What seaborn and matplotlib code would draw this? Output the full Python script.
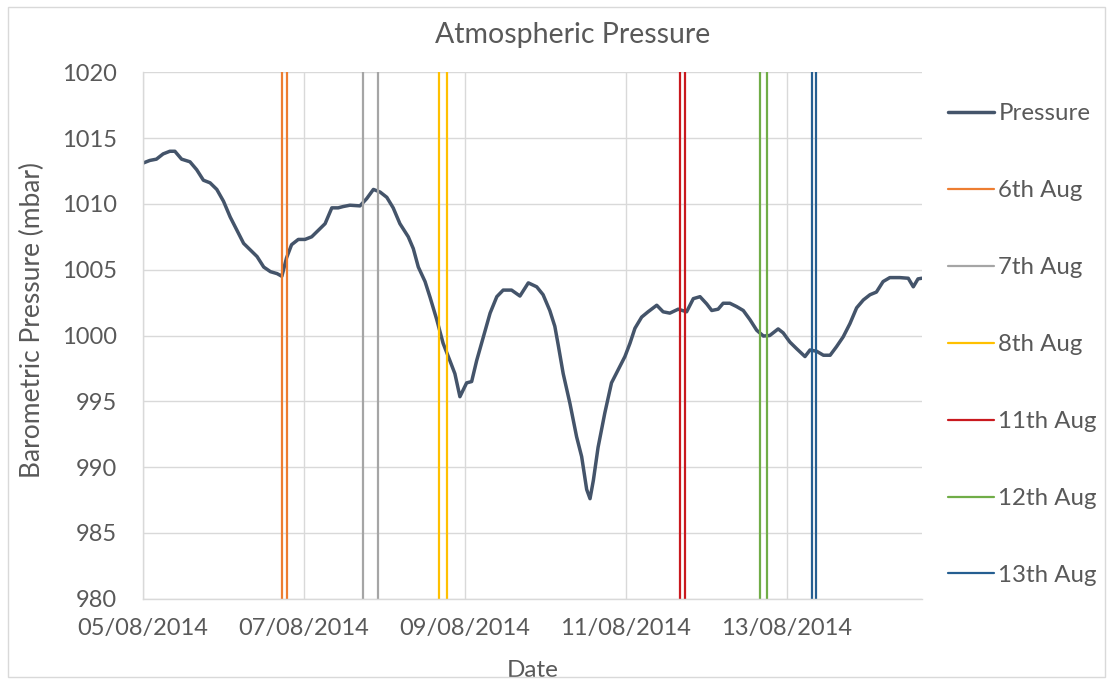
import pandas as pd
import matplotlib.pyplot as plt
import matplotlib.dates as mdates
import seaborn as sns
from matplotlib.lines import Line2D
from matplotlib.patches import Rectangle

# hours after 05/08/2014 00:00
hours = [0, 2, 4, 6, 8, 9.5, 11.5, 14, 16, 18, 20, 22, 24, 26, 28, 30, 32, 34, 36, 38,
         40, 41.4, 42.8, 44.3, 46.3, 48.3, 50.3, 52.3, 54.3, 56.3, 58.2, 59.7, 61.7, 64.7,
         66.7, 68.7, 70.7, 72.7, 74.6, 76.6, 79.1, 80.6, 82.1, 84.1, 85.6, 87.6, 89.5, 91.5,
         93, 94.5, 96.5, 98, 99.5, 101.5, 103.5, 105.5, 107.4, 109.9, 112.4, 114.9, 117.4,
         119.3, 121.3, 122.8, 123.8, 125.3, 127.3, 129.3, 130.8, 132.3, 133.3, 134.3, 135.7,
         137.7, 139.7, 141.7, 143.7, 145.2, 146.7, 148.7, 150.6, 153.2, 155.1, 157.1, 159.6,
         162.1, 164.1, 166.1, 168.1, 169.6, 171.5, 173, 175, 177, 179, 181, 183, 185, 186.9,
         189.4, 190.9, 192.9, 194.9, 197.4, 198.9, 200.9, 202.9, 204.9, 206.8, 208.8, 210.8,
         212.8, 214.8, 216.8, 218.7, 220.7, 222.7, 225.7, 228.2, 229.7, 231.1, 232.2]
pressure = [1013.1, 1013.3, 1013.4, 1013.8, 1014.0, 1014.0, 1013.4, 1013.2, 1012.6, 1011.8,
            1011.6, 1011.1, 1010.2, 1009.0, 1008.0, 1007.0, 1006.5, 1006.0, 1005.2, 1004.85,
            1004.7, 1004.5, 1005.9, 1006.9, 1007.3, 1007.3, 1007.5, 1008.0, 1008.5, 1009.7,
            1009.7, 1009.8, 1009.9, 1009.85, 1010.4, 1011.1, 1010.9, 1010.5, 1009.7, 1008.5,
            1007.5, 1006.6, 1005.2, 1004.1, 1002.9, 1001.2, 999.4, 998.1, 997.1, 995.35,
            996.4, 996.5, 998.1, 999.9, 1001.7, 1002.95, 1003.45, 1003.45, 1003.0, 1004.0,
            1003.7, 1003.1, 1001.9, 1000.7, 999.3, 997.1, 994.85, 992.3, 990.8, 988.3, 987.6,
            989.0, 991.5, 994.1, 996.4, 997.4, 998.4, 999.4, 1000.55, 1001.4, 1001.8, 1002.3,
            1001.8, 1001.7, 1002.0, 1001.8, 1002.8, 1002.95, 1002.4, 1001.9, 1002.0,
            1002.45, 1002.45, 1002.2, 1001.9, 1001.2, 1000.4, 999.96, 1000.0, 1000.5, 1000.2,
            999.5, 999.0, 998.4, 998.9, 998.8, 998.5, 998.5, 999.15, 999.9, 1000.9, 1002.1,
            1002.7, 1003.1, 1003.3, 1004.1, 1004.4, 1004.4, 1004.35, 1003.7, 1004.3, 1004.35]

event_labels = ['6th Aug', '7th Aug', '8th Aug', '11th Aug', '12th Aug', '13th Aug']
event_start = ['2014-08-06 17:20', '2014-08-07 17:35', '2014-08-08 16:15',
               '2014-08-11 16:00', '2014-08-12 16:00', '2014-08-13 07:27']
event_end = ['2014-08-06 18:50', '2014-08-07 22:05', '2014-08-08 18:45',
             '2014-08-11 17:30', '2014-08-12 18:05', '2014-08-13 08:40']
event_colors = ['#ED7D31', '#A5A5A5', '#FFC000', '#C9191E', '#70AD47', '#255E91']

start = pd.Timestamp('2014-08-05')
df = pd.DataFrame({'Date': start + pd.to_timedelta(hours, unit='h'), 'Pressure': pressure})

sns.set_theme(style='white')
plt.rcParams['font.family'] = ['Lato', 'DejaVu Sans']
txt = '#595959'
grid = '#D9D9D9'

fig = plt.figure(figsize=(11.13, 6.84), dpi=100)
fig.patches.append(Rectangle((0.007, 0.01), 0.986, 0.98, transform=fig.transFigure,
                             fill=False, edgecolor=grid, linewidth=1))
ax = fig.add_axes([0.1285, 0.1247, 0.6996, 0.7696])

line_col = '#44546A'
sns.lineplot(data=df, x='Date', y='Pressure', color=line_col, linewidth=2.5, ax=ax)
for s, e, c in zip(event_start, event_end, event_colors):
    ax.axvline(pd.Timestamp(s), color=c, linewidth=1.6)
    ax.axvline(pd.Timestamp(e), color=c, linewidth=1.6)

ax.set_xlim(start, start + pd.Timedelta(hours=232.2))
ax.set_ylim(980, 1020)
ax.set_yticks(range(980, 1021, 5))
ax.xaxis.set_major_locator(mdates.DayLocator(interval=2))
ax.xaxis.set_major_formatter(mdates.DateFormatter('%d/%m/%Y'))
ax.grid(True, color=grid, linewidth=1)
for side in ['top', 'right']:
    ax.spines[side].set_visible(False)
for side in ['left', 'bottom']:
    ax.spines[side].set_color(grid)
    ax.spines[side].set_linewidth(1)
ax.tick_params(axis='both', length=0, labelsize=17, labelcolor=txt)
ax.tick_params(axis='y', pad=19)
ax.tick_params(axis='x', pad=14)
ax.set_xlabel('Date', fontsize=17.5, color=txt)
ax.set_ylabel('Barometric Pressure (mbar)', fontsize=19, color=txt)
ax.xaxis.set_label_coords(0.5, -(670 - 598.7) / 526.4, transform=ax.transAxes)
ax.xaxis.label.set_va('center')
ax.yaxis.set_label_coords(-(143 - 32) / 778.7, (598.7 - 320) / 526.4, transform=ax.transAxes)
ax.yaxis.label.set_va('center')

fig.text(573 / 1113, 1 - 35 / 684, 'Atmospheric Pressure', ha='center', va='center',
         fontsize=20.5, color=txt)

handles = [Line2D([], [], color=line_col, linewidth=2.5)]
handles += [Line2D([], [], color=c, linewidth=1.6) for c in event_colors]
fig.legend(handles, ['Pressure'] + event_labels, loc='upper left',
           bbox_to_anchor=(948 / 1113, 1 - 103 / 684), frameon=False, fontsize=17.3,
           labelcolor=txt, handlelength=1.9, handletextpad=0.2, labelspacing=2.33,
           borderpad=0, borderaxespad=0)

fig.savefig('out.png', dpi=100)
